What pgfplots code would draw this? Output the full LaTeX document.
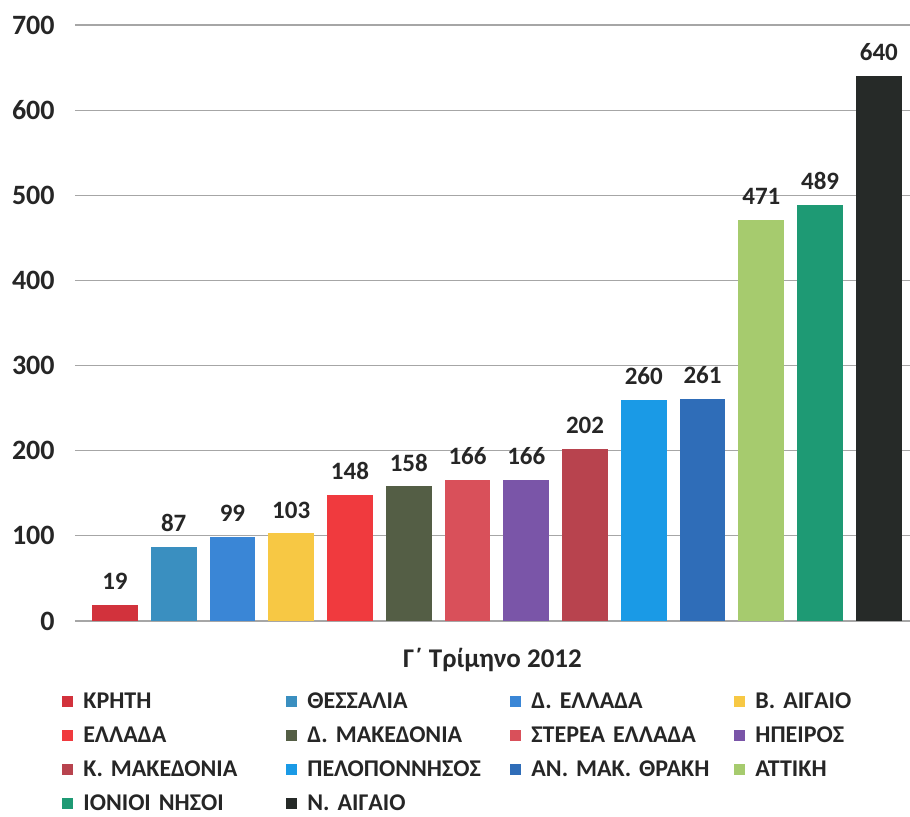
\documentclass[border=0pt]{standalone}
\usepackage{pgfplots}
\pgfplotsset{compat=1.18}
\usepackage{fontspec}
\setmainfont{Carlito}
\definecolor{c1}{HTML}{D2323C}
\definecolor{c2}{HTML}{3A8FC0}
\definecolor{c3}{HTML}{3A86D6}
\definecolor{c4}{HTML}{F7C844}
\definecolor{c5}{HTML}{F03A3E}
\definecolor{c6}{HTML}{545E45}
\definecolor{c7}{HTML}{D9505A}
\definecolor{c8}{HTML}{7A55A8}
\definecolor{c9}{HTML}{B8434E}
\definecolor{c10}{HTML}{1A9AE6}
\definecolor{c11}{HTML}{2F6DB8}
\definecolor{c12}{HTML}{A6CB6E}
\definecolor{c13}{HTML}{1E9A74}
\definecolor{c14}{HTML}{262A28}
\begin{document}
\begin{tikzpicture}
\path[use as bounding box] (-37.5pt,-97.5pt) rectangle (417.5pt,310.5pt);
\begin{axis}[
  at={(0,0)}, anchor=south west,
  scale only axis, width=417.5pt, height=298pt,
  ymin=0, ymax=700, ytick={0,100,...,700},
  xmin=-0.68, xmax=13.53, xtick=\empty,
  axis line style={draw=none},
  major tick length=0pt,
  ymajorgrids, grid style={gray!70, line width=0.6pt},
  ybar, bar width=0.78, bar shift=0pt,
  /pgf/number format/assume math mode=true,
  yticklabel style={font=\bfseries\fontsize{14}{16}\selectfont, color=black!85, inner xsep=0pt, xshift=-10pt},
  nodes near coords,
  every node near coord/.append style={font=\bfseries\fontsize{12.5}{14}\selectfont, color=black!85, yshift=4pt},
  xlabel={Γ΄ Τρίμηνο 2012},
  xlabel style={at={(rel axis cs:0.5,0)}, anchor=center, yshift=-19.5pt, font=\bfseries\fontsize{13.5}{15}\selectfont, color=black!85},
  legend columns=4,
  legend image code/.code={\fill[#1] (0pt,-2.75pt) rectangle (5.5pt,2.75pt);},
  legend style={at={(rel axis cs:0,0)}, anchor=north west, xshift=-6.5pt, yshift=-35pt,
    draw=none, inner sep=0pt, column sep=0pt, row sep=6.5pt,
    nodes={inner xsep=5pt, inner ysep=0pt, text width=96.5pt, align=left, text height=8.5pt, text depth=2pt,
      font=\bfseries\fontsize{12}{14}\selectfont, text=black!85}},
]
\addplot[fill=c1, draw=none] coordinates {(0,19)};
\addplot[fill=c2, draw=none] coordinates {(1,87)};
\addplot[fill=c3, draw=none] coordinates {(2,99)};
\addplot[fill=c4, draw=none] coordinates {(3,103)};
\addplot[fill=c5, draw=none] coordinates {(4,148)};
\addplot[fill=c6, draw=none] coordinates {(5,158)};
\addplot[fill=c7, draw=none] coordinates {(6,166)};
\addplot[fill=c8, draw=none] coordinates {(7,166)};
\addplot[fill=c9, draw=none] coordinates {(8,202)};
\addplot[fill=c10, draw=none] coordinates {(9,260)};
\addplot[fill=c11, draw=none] coordinates {(10,261)};
\addplot[fill=c12, draw=none] coordinates {(11,471)};
\addplot[fill=c13, draw=none] coordinates {(12,489)};
\addplot[fill=c14, draw=none] coordinates {(13,640)};
\legend{ΚΡΗΤΗ, ΘΕΣΣΑΛΙΑ, Δ. ΕΛΛΑΔΑ, Β. ΑΙΓΑΙΟ, ΕΛΛΑΔΑ, Δ. ΜΑΚΕΔΟΝΙΑ, ΣΤΕΡΕΑ ΕΛΛΑΔΑ, ΗΠΕΙΡΟΣ, Κ. ΜΑΚΕΔΟΝΙΑ, ΠΕΛΟΠΟΝΝΗΣΟΣ, ΑΝ. ΜΑΚ. ΘΡΑΚΗ, ΑΤΤΙΚΗ, ΙΟΝΙΟΙ ΝΗΣΟΙ, Ν. ΑΙΓΑΙΟ}
\end{axis}
\end{tikzpicture}
\end{document}
